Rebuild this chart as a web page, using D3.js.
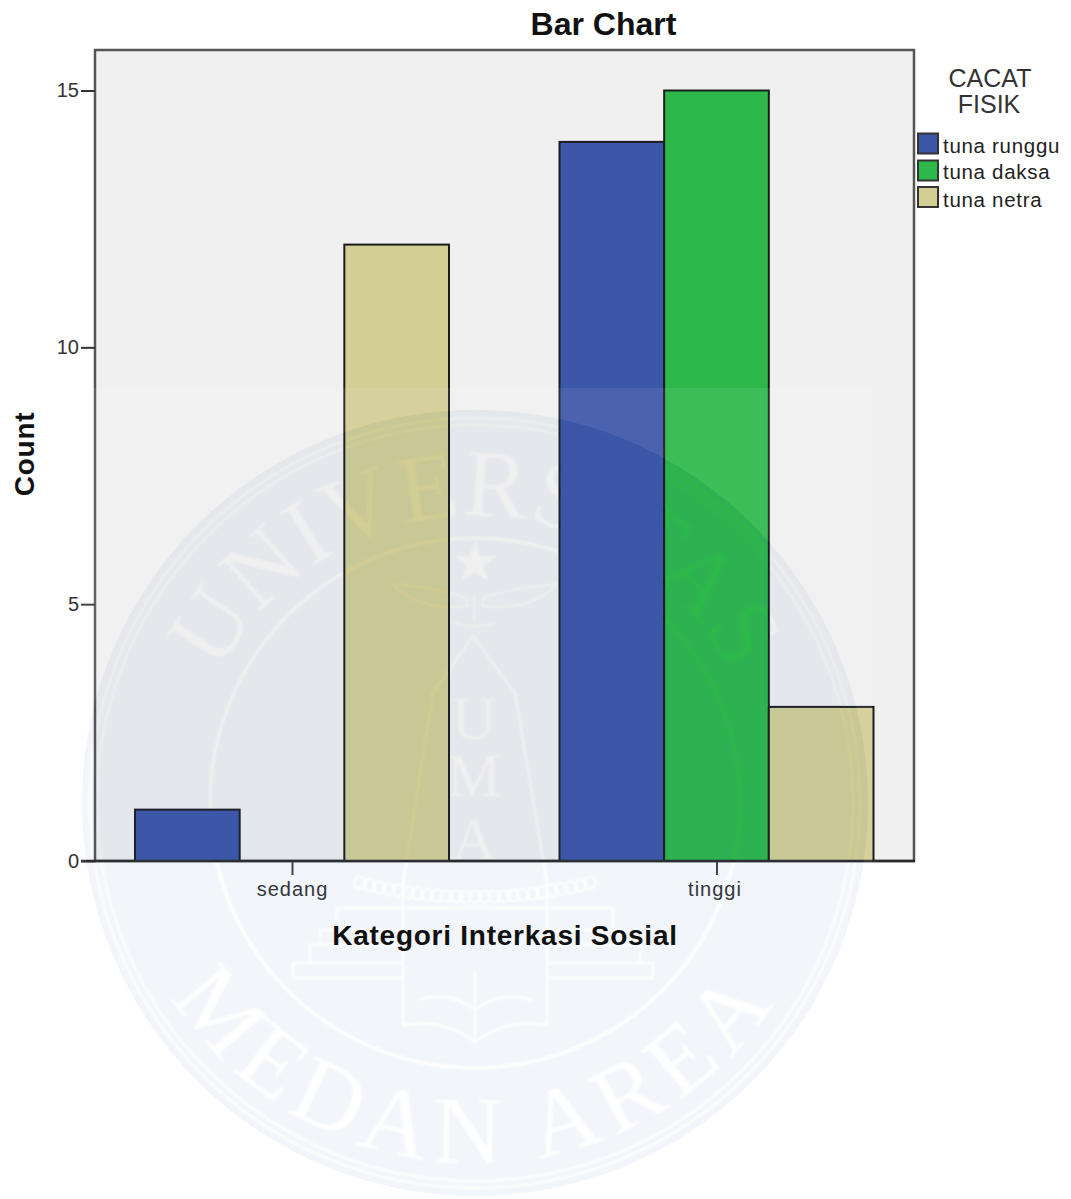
<!DOCTYPE html>
<html><head><meta charset="utf-8">
<script src="https://cdn.jsdelivr.net/npm/d3@7/dist/d3.min.js"></script>
<style>html,body{margin:0;background:#fff}svg{display:block}text{font-family:"Liberation Sans",Arial,sans-serif}</style>
</head><body><div id="c"></div>
<script>
const categories=["sedang","tinggi"];
const seriesNames=["tuna runggu","tuna daksa","tuna netra"];
const seriesColors=["#3c56a8","#2db84a","#d3ce94"];
const valuesRunggu=[1,14];
const valuesDaksa=[0,15];
const valuesNetra=[12,3];
const yTicks=[0,5,10,15];
const seriesValues=[valuesRunggu,valuesDaksa,valuesNetra];
const W=1071,H=1199,L=95,R=914,T=50,B=861;
const svg=d3.select("#c").append("svg").attr("width",W).attr("height",H);
const defs=svg.append("defs");
svg.append("rect").attr("width",W).attr("height",H).attr("fill","#fff");
const y=d3.scaleLinear().domain([0,15]).range([B,90.5]);
const xc=d3.scalePoint().domain(categories).range([292,716.5]);
const xs=d3.scaleBand().domain([0,1,2]).range([-157,157]).padding(0);
svg.append("rect").attr("x",L).attr("y",T).attr("width",R-L).attr("height",B-T).attr("fill","#f0f0f0").attr("stroke","#555").attr("stroke-width",2.5);
categories.forEach((c,ci)=>{
 seriesValues.forEach((vals,si)=>{
  if(vals[ci]===0)return;
  svg.append("rect").attr("class","bar").attr("x",xc(c)+xs(si)).attr("y",y(vals[ci])).attr("width",xs.bandwidth()).attr("height",B-y(vals[ci])).attr("fill",seriesColors[si]).attr("stroke","#1c1c1c").attr("stroke-width",2);
 });
});
// axes
const gy=svg.append("g").attr("transform",`translate(${L},0)`).call(d3.axisLeft(y).tickValues(yTicks).tickSize(14).tickPadding(2).tickFormat(d3.format("d")));
gy.select(".domain").remove();
gy.selectAll("line").attr("stroke","#333").attr("stroke-width",2);
gy.selectAll("text").attr("font-size",20).attr("x",-16).attr("fill","#333").style("font-family",'"Liberation Sans",Arial,sans-serif');
const gx=svg.append("g").attr("transform",`translate(0,${B})`).call(d3.axisBottom(xc).tickSize(14).tickPadding(7));
gx.select(".domain").attr("stroke","#333").attr("stroke-width",0);
gx.selectAll("line").attr("stroke","#444").attr("stroke-width",2);
gx.selectAll("text").attr("font-size",20).attr("fill","#333").attr("letter-spacing",1).attr("dx",(d,i)=>i?-2:0).style("font-family",'"Liberation Sans",Arial,sans-serif');
svg.append("line").attr("x1",L-14).attr("x2",R+1).attr("y1",B).attr("y2",B).attr("stroke","#2a2a2a").attr("stroke-width",2.5);

// watermark
const cx=475,cy=803,rOut=393;
const blur=defs.append("filter").attr("id","soft").attr("x","-5%").attr("y","-5%").attr("width","110%").attr("height","110%");
blur.append("feGaussianBlur").attr("stdDeviation",0.8);
const mask=defs.append("mask").attr("id","wm").attr("maskUnits","userSpaceOnUse").attr("x",0).attr("y",0).attr("width",W).attr("height",H);
mask.append("rect").attr("width",W).attr("height",H).attr("fill","#fff");
const m=mask.append("g").attr("fill","none").attr("stroke","#000").attr("filter","url(#soft)");
[[rOut-8,2],[rOut-15,2],[265,3.5]].forEach(([r,w])=>m.append("circle").attr("cx",cx).attr("cy",cy).attr("r",r).attr("stroke-width",w));
const arcP=(id,r,sweep)=>defs.append("path").attr("id",id).attr("d",sweep
  ?`M${cx-r},${cy} A${r},${r} 0 0 1 ${cx+r},${cy}`
  :`M${cx-r},${cy} A${r},${r} 0 0 0 ${cx+r},${cy}`);
arcP("arcTop",287,true);arcP("arcBot",360,false);
[["arcTop","UNIVERSITAS",1],["arcBot","MEDAN AREA",9]].forEach(([id,t,ls])=>{
 m.append("text").attr("font-size",96).attr("fill","#000").attr("stroke","none").attr("letter-spacing",ls)
  .attr("text-anchor","middle").style("font-family",'"Liberation Serif",serif')
  .append("textPath").attr("href","#"+id).attr("startOffset","50%").text(t);
});
m.append("path").attr("transform",`translate(${cx},563)`).attr("d",d3.symbol(d3.symbolStar,620)()).attr("fill","#000").attr("stroke","none");
m.append("path").attr("stroke-width",2).attr("d","M392,584 Q440,588 466,598 L468,606 Q420,612 392,584Z M558,584 Q510,588 484,598 L482,606 Q530,612 558,584Z M474,594 L474,622 M452,622 Q474,630 496,622");
m.append("path").attr("stroke-width",3).attr("d","M403,883 L433,693 L473,636 L515,693 L547,883");
["U","M","A"].forEach((t,i)=>m.append("text").attr("x",474).attr("y",[739,796,860][i]).attr("text-anchor","middle").attr("font-size",62).attr("fill","#000").attr("stroke","none").style("font-family",'"Liberation Serif",serif').text(t));
d3.range(0,25).forEach(i=>{
 const px=360+i*230/24, py=897-14*Math.pow((i-12)/12,2);
 m.append("circle").attr("cx",px).attr("cy",py).attr("r",6).attr("stroke-width",2);
});
m.append("path").attr("stroke-width",2.5).attr("d","M337,930 V908 H613 V930 M320,945 V930 H403 M547,930 H630 V945 M310,963 V945 H403 M547,945 H640 V963 M403,963 H293 V978 H403 M547,963 H653 V978 H547");
m.append("path").attr("stroke-width",2.5).attr("d","M403,883 V1025 Q445,1018 475,1042 Q505,1018 547,1025 V883 M475,1042 V972 M418,1000 Q450,990 475,1010 Q500,990 532,1000");
svg.append("circle").attr("cx",cx).attr("cy",cy).attr("r",rOut).attr("fill","rgb(60,105,180)").attr("fill-opacity",0.067).attr("mask","url(#wm)");
svg.append("path").attr("fill-rule","evenodd").attr("fill","#fff").attr("opacity",0.08)
 .attr("d",`M80,388 H872 V1199 H80 Z M${cx-rOut},${cy} a${rOut},${rOut} 0 1 0 ${2*rOut},0 a${rOut},${rOut} 0 1 0 ${-2*rOut},0 Z`);

// titles (above watermark)
const tx=svg.append("g").attr("fill","#111");
tx.append("text").attr("x",603.5).attr("y",35).attr("text-anchor","middle").attr("font-size",32).attr("font-weight","bold").text("Bar Chart");
tx.append("text").attr("x",505).attr("y",945).attr("text-anchor","middle").attr("font-size",28).attr("letter-spacing",0.75).attr("font-weight","bold").text("Kategori Interkasi Sosial");
tx.append("text").attr("transform","translate(34,454) rotate(-90)").attr("text-anchor","middle").attr("font-size",28).attr("letter-spacing",0.75).attr("font-weight","bold").text("Count");
tx.append("text").attr("x",990).attr("y",87).attr("text-anchor","middle").attr("font-size",25).attr("fill","#333").text("CACAT");
tx.append("text").attr("x",989).attr("y",113).attr("text-anchor","middle").attr("font-size",25).attr("fill","#333").text("FISIK");
seriesNames.forEach((n,i)=>{
 const yy=[133.5,160.5,187][i];
 svg.append("rect").attr("x",918).attr("y",yy).attr("width",20).attr("height",20).attr("fill",seriesColors[i]).attr("stroke","#333").attr("stroke-width",2);
 svg.append("text").attr("x",943).attr("y",[153,179,207][i]).attr("font-size",20.5).attr("letter-spacing",0.7).attr("fill","#222").text(n);
});
</script></body></html>
